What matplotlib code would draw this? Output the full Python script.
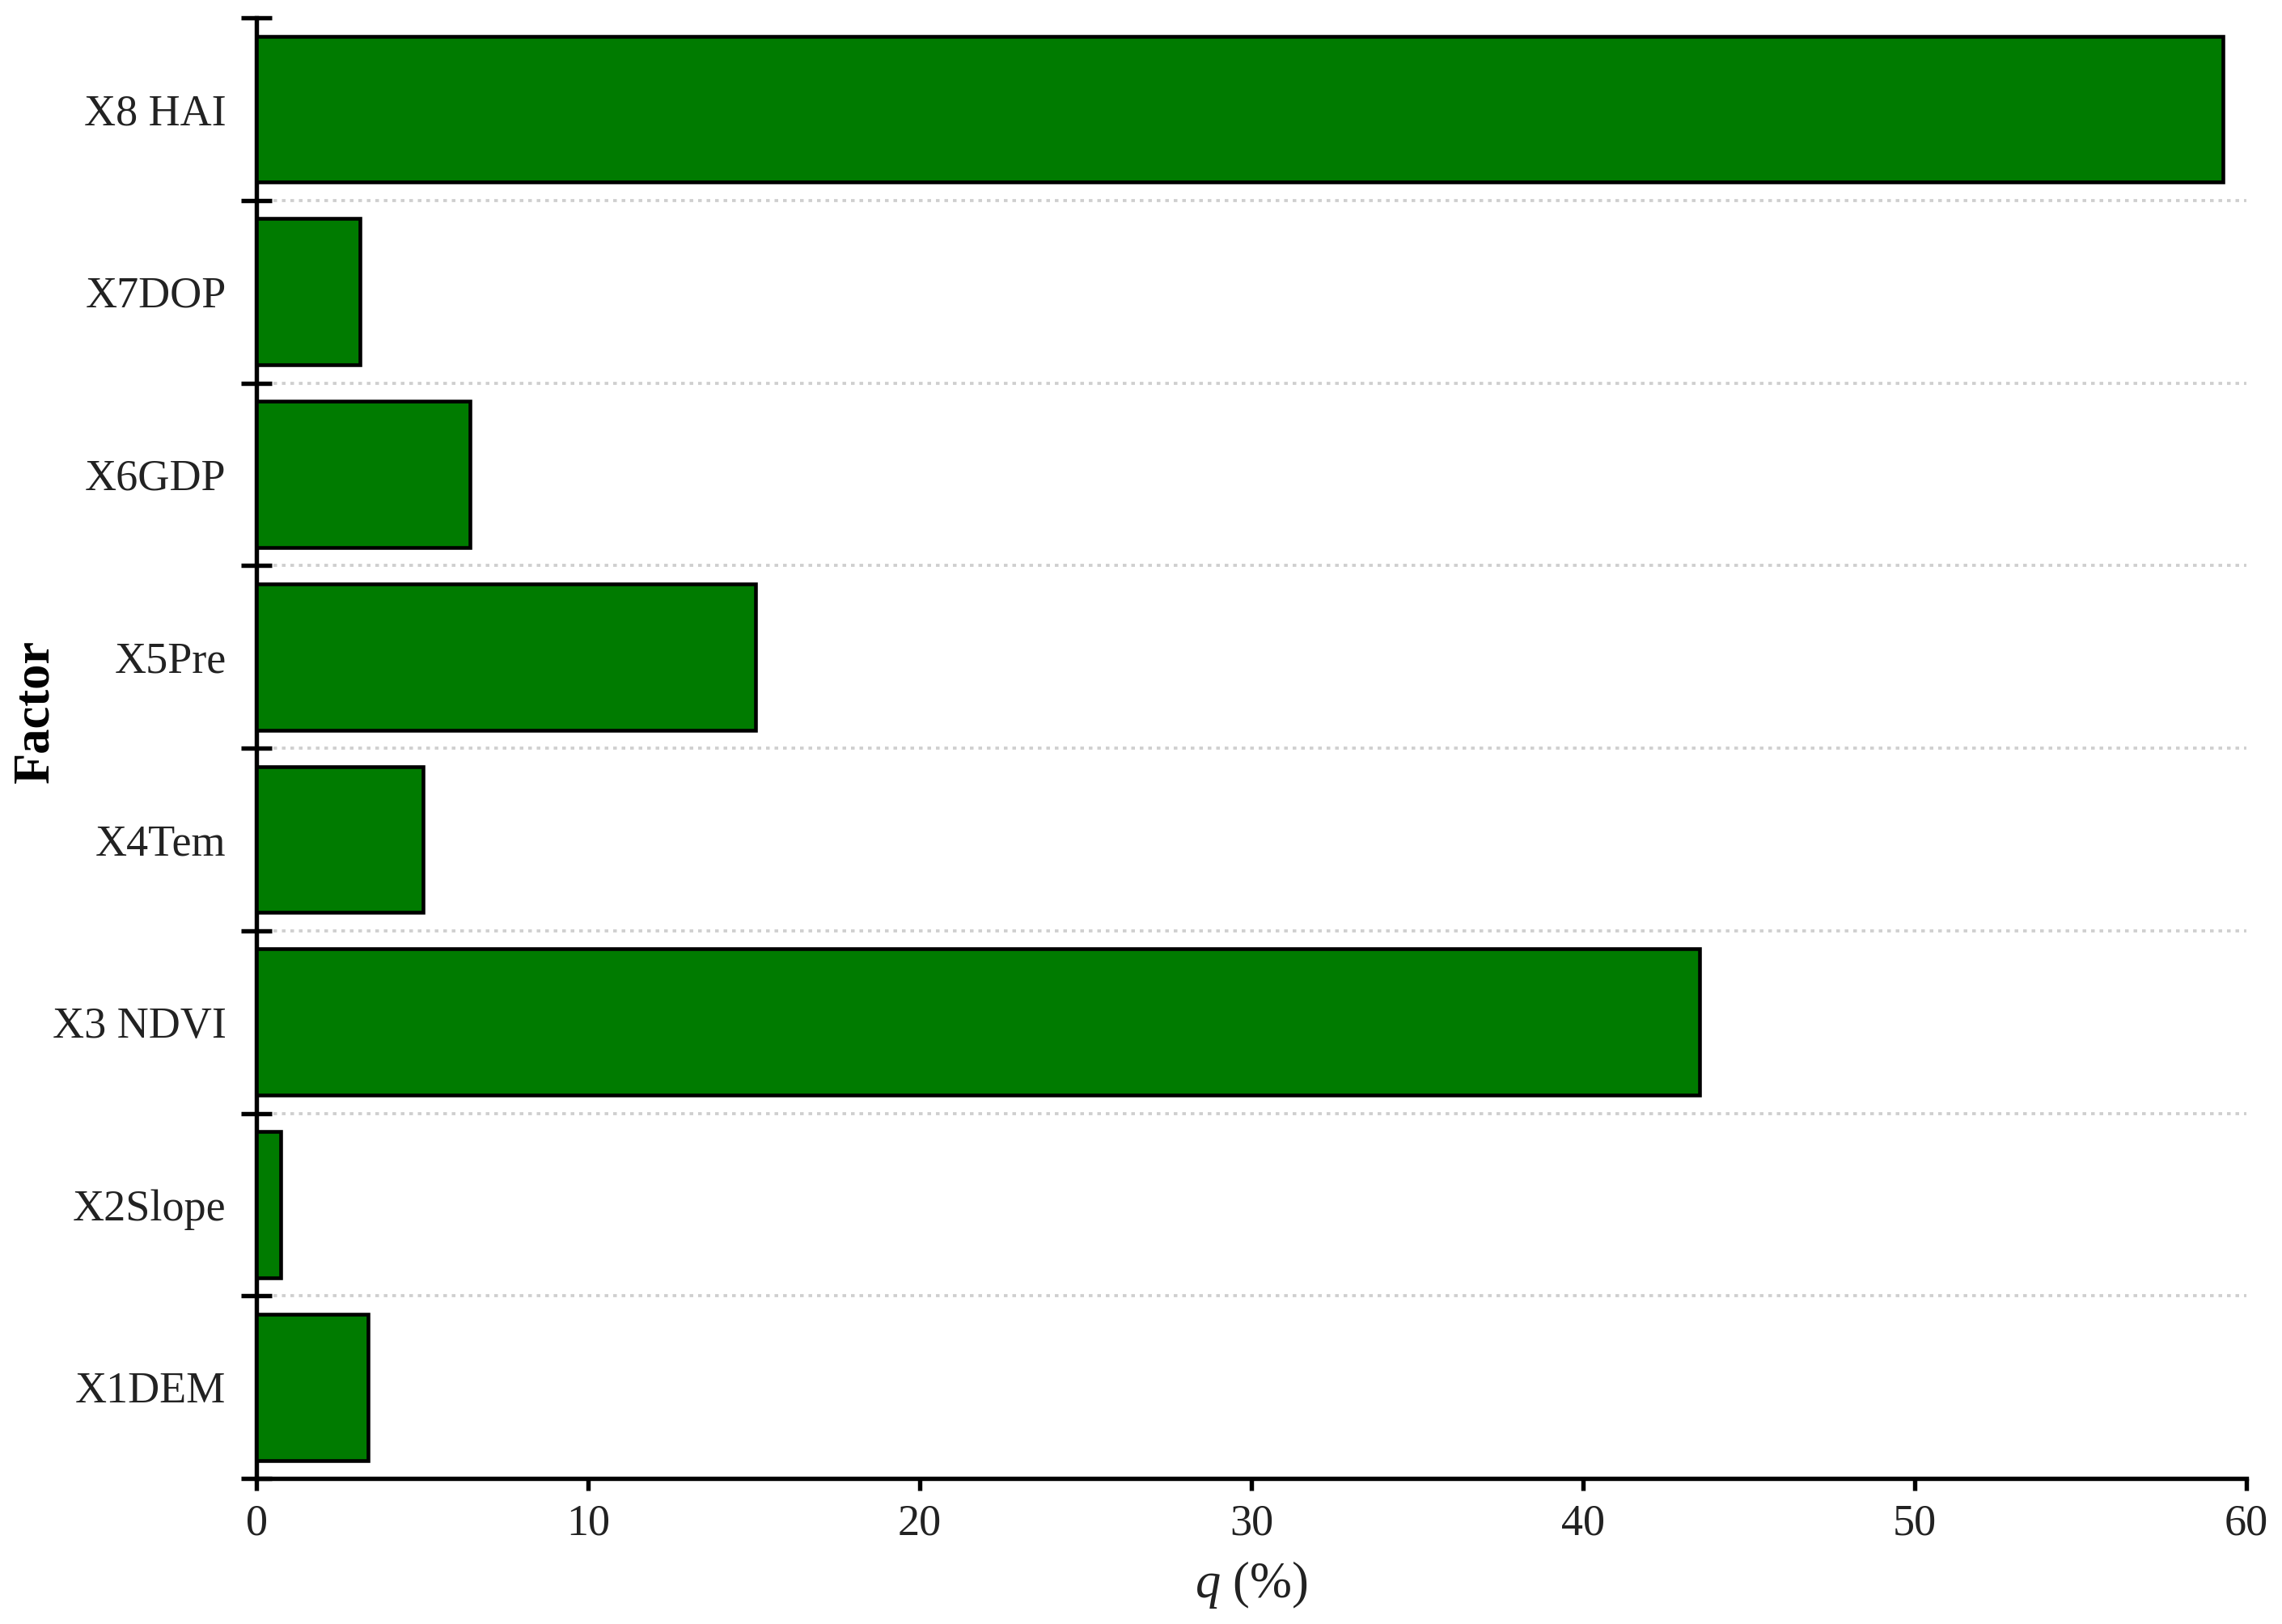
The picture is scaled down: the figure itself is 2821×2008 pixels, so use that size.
import matplotlib
matplotlib.use("Agg")
import matplotlib.pyplot as plt
import numpy as np

# q values (%) for each factor, bottom to top as drawn
factors = ["X1DEM", "X2Slope", "X3 NDVI", "X4Tem", "X5Pre", "X6GDP", "X7DOP", "X8 HAI"]
q_values = [3.37, 0.73, 43.5, 5.02, 15.05, 6.44, 3.12, 59.3]
x_ticks = [0, 10, 20, 30, 40, 50, 60]

plt.rcParams["font.family"] = ["Liberation Serif", "DejaVu Serif"]
plt.rcParams["mathtext.fontset"] = "custom"
plt.rcParams["mathtext.rm"] = "Liberation Serif"
plt.rcParams["mathtext.it"] = "Liberation Serif:italic"

fig = plt.figure(figsize=(2821 / 300, 2008 / 300), dpi=300)
ax = fig.add_axes([0.1124, 0.0896, 0.872, 0.8994])

pos = np.arange(len(factors))
ax.barh(pos, q_values, height=0.8, color="#007b00", edgecolor="black", linewidth=1.1, zorder=3)

bounds = np.arange(len(factors) + 1) - 0.5
ax.hlines(bounds[1:-1], 0, x_ticks[-1], colors="#cfcfcf", linestyles=(0, (1.2, 1.6)),
          linewidth=0.9, zorder=1)

ax.set_xlim(x_ticks[0], x_ticks[-1])
ax.set_ylim(bounds[0], bounds[-1])
ax.set_xticks(x_ticks)
ax.set_yticks(pos)
ax.set_yticklabels(factors)
ax.set_yticks(bounds, minor=True)

for s in ["top", "right"]:
    ax.spines[s].set_visible(False)
for s in ["left", "bottom"]:
    ax.spines[s].set_linewidth(1.3)

ax.tick_params(axis="y", which="major", length=0, pad=9, labelsize=13, colors="#222222")
ax.tick_params(axis="y", which="minor", direction="inout", length=9, width=1.3, color="black")
ax.tick_params(axis="x", direction="out", length=3.5, width=1.3, pad=4, labelsize=13,
               labelcolor="#222222")

ax.set_xlabel("$q$ (%)", fontsize=15, color="#222222", va="center")
ax.xaxis.set_label_coords(0.5, -0.073)
ax.set_ylabel("Factor", fontsize=15, fontweight="bold", va="center")
ax.yaxis.set_label_coords(-0.111, 0.525)

fig.savefig("out.png", dpi=300, facecolor="white")
